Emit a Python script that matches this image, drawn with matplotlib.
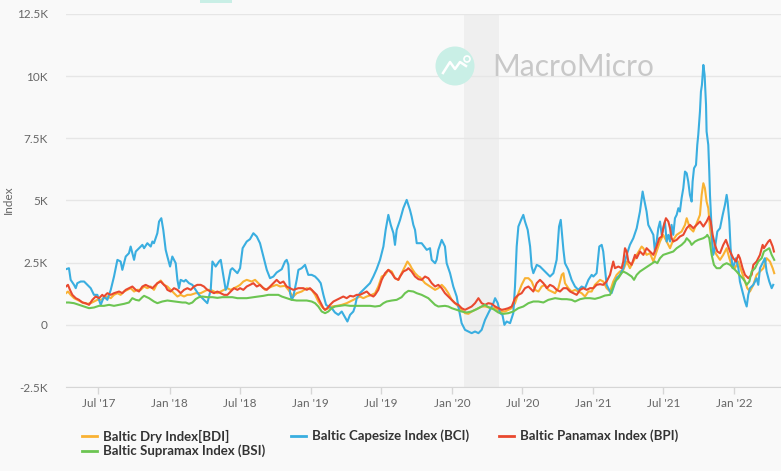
import numpy as np
import pandas as pd
import matplotlib
matplotlib.use("Agg")
import matplotlib.pyplot as plt
from matplotlib.patches import Ellipse, Rectangle
from matplotlib.lines import Line2D

# values: (decimal year, index value)
bdi_pts = [
    (2017.266, 1273), (2017.280, 1340), (2017.299, 1206), (2017.323, 1072), (2017.346, 1005),
    (2017.370, 938), (2017.394, 871), (2017.417, 844), (2017.441, 871), (2017.464, 938),
    (2017.488, 1005), (2017.512, 1005), (2017.535, 1072), (2017.559, 1139), (2017.583, 1072),
    (2017.606, 1206), (2017.630, 1273), (2017.653, 1206), (2017.677, 1340), (2017.701, 1407),
    (2017.724, 1474), (2017.748, 1340), (2017.771, 1407), (2017.795, 1407), (2017.819, 1541),
    (2017.842, 1474), (2017.866, 1541), (2017.889, 1407), (2017.913, 1675), (2017.937, 1782),
    (2017.960, 1608), (2017.984, 1541), (2018.007, 1407), (2018.031, 1273), (2018.055, 1139),
    (2018.078, 1206), (2018.102, 1139), (2018.126, 1206), (2018.149, 1206), (2018.184, 1273),
    (2018.220, 1273), (2018.243, 1340), (2018.267, 1407), (2018.291, 1407), (2018.314, 1340),
    (2018.338, 1273), (2018.362, 1340), (2018.385, 1407), (2018.409, 1474), (2018.432, 1407),
    (2018.456, 1474), (2018.480, 1541), (2018.499, 1608), (2018.522, 1742), (2018.546, 1809),
    (2018.581, 1742), (2018.605, 1809), (2018.628, 1675), (2018.652, 1541), (2018.676, 1407),
    (2018.699, 1474), (2018.723, 1541), (2018.758, 1608), (2018.782, 1541), (2018.817, 1568),
    (2018.841, 1407), (2018.865, 1206), (2018.876, 1139), (2018.900, 1273), (2018.935, 1340),
    (2018.971, 1474), (2019.006, 1407), (2019.030, 1206), (2019.053, 938), (2019.077, 737),
    (2019.101, 603), (2019.124, 670), (2019.148, 737), (2019.183, 764), (2019.219, 804),
    (2019.254, 871), (2019.278, 938), (2019.301, 1005), (2019.325, 1072), (2019.348, 1139),
    (2019.372, 1072), (2019.396, 1139), (2019.431, 1206), (2019.455, 1273), (2019.478, 1541),
    (2019.502, 1943), (2019.526, 2010), (2019.549, 2211), (2019.573, 2144), (2019.596, 1876),
    (2019.620, 1809), (2019.643, 2077), (2019.667, 2345), (2019.684, 2546), (2019.702, 2412),
    (2019.714, 2278), (2019.738, 2077), (2019.762, 1943), (2019.773, 1916), (2019.809, 1675),
    (2019.844, 1541), (2019.880, 1407), (2019.903, 1474), (2019.927, 1608), (2019.950, 1474),
    (2019.974, 1273), (2019.998, 1005), (2020.021, 871), (2020.045, 737), (2020.068, 603),
    (2020.092, 469), (2020.116, 442), (2020.139, 536), (2020.163, 603), (2020.187, 670),
    (2020.210, 737), (2020.234, 737), (2020.257, 710), (2020.281, 670), (2020.305, 670),
    (2020.328, 576), (2020.352, 536), (2020.375, 536), (2020.399, 603), (2020.423, 670),
    (2020.446, 871), (2020.470, 1273), (2020.493, 1608), (2020.517, 1876), (2020.541, 1876),
    (2020.564, 1742), (2020.588, 1407), (2020.612, 1340), (2020.635, 1541), (2020.659, 1608),
    (2020.682, 1407), (2020.706, 1340), (2020.730, 1273), (2020.753, 1474), (2020.777, 2010),
    (2020.789, 2077), (2020.800, 1675), (2020.824, 1474), (2020.847, 1340), (2020.871, 1407),
    (2020.895, 1340), (2020.918, 1273), (2020.942, 1139), (2020.966, 1340), (2020.989, 1340),
    (2021.012, 1608), (2021.048, 1809), (2021.071, 1742), (2021.095, 1474), (2021.119, 1340),
    (2021.142, 1742), (2021.166, 2010), (2021.189, 2144), (2021.213, 2211), (2021.237, 2546),
    (2021.260, 2278), (2021.308, 2814), (2021.343, 3149), (2021.355, 3082), (2021.378, 2814),
    (2021.402, 2881), (2021.426, 2546), (2021.449, 2948), (2021.473, 3350), (2021.496, 3618),
    (2021.520, 3350), (2021.544, 3082), (2021.567, 3417), (2021.591, 3618), (2021.626, 3752),
    (2021.650, 4020), (2021.662, 4288), (2021.685, 3886), (2021.709, 3752), (2021.733, 4087),
    (2021.756, 4422), (2021.768, 5226), (2021.780, 5695), (2021.791, 5494), (2021.803, 4958),
    (2021.815, 4690), (2021.827, 3886), (2021.846, 3082), (2021.874, 2814), (2021.898, 2613),
    (2021.921, 2814), (2021.945, 3082), (2021.964, 2680), (2021.980, 2412), (2022.004, 2278),
    (2022.028, 2546), (2022.051, 2144), (2022.075, 1742), (2022.091, 1474), (2022.110, 1340),
    (2022.134, 1608), (2022.157, 2010), (2022.181, 2144), (2022.205, 2278), (2022.228, 2680),
    (2022.252, 2546), (2022.271, 2278), (2022.282, 2077),
]

bci_pts = [
    (2017.266, 2238), (2017.287, 2278), (2017.299, 1809), (2017.323, 1608), (2017.335, 1474),
    (2017.346, 1675), (2017.370, 1742), (2017.394, 1742), (2017.417, 1608), (2017.441, 1474),
    (2017.464, 1206), (2017.488, 1206), (2017.512, 804), (2017.535, 1139), (2017.559, 1005),
    (2017.583, 1407), (2017.606, 1943), (2017.630, 2613), (2017.653, 2546), (2017.665, 2211),
    (2017.689, 2747), (2017.712, 2881), (2017.724, 3149), (2017.748, 2613), (2017.760, 2948),
    (2017.783, 3082), (2017.807, 3216), (2017.819, 3082), (2017.842, 3283), (2017.866, 3149),
    (2017.878, 3350), (2017.889, 3283), (2017.913, 3685), (2017.925, 4154), (2017.941, 4288),
    (2017.955, 3819), (2017.972, 3015), (2017.984, 2747), (2018.003, 2345), (2018.019, 2747),
    (2018.043, 2479), (2018.055, 1809), (2018.066, 1474), (2018.078, 1809), (2018.102, 1742),
    (2018.114, 1809), (2018.137, 1675), (2018.161, 1608), (2018.184, 1407), (2018.208, 1206),
    (2018.220, 1139), (2018.243, 1005), (2018.267, 871), (2018.291, 1407), (2018.303, 2546),
    (2018.326, 2345), (2018.350, 2546), (2018.362, 2613), (2018.385, 1809), (2018.397, 1407),
    (2018.409, 1541), (2018.432, 2211), (2018.444, 2278), (2018.468, 2144), (2018.480, 2077),
    (2018.499, 2278), (2018.517, 3082), (2018.546, 3350), (2018.569, 3444), (2018.593, 3685),
    (2018.617, 3551), (2018.640, 3283), (2018.664, 2747), (2018.688, 2211), (2018.711, 1876),
    (2018.735, 1943), (2018.758, 2104), (2018.794, 2238), (2018.817, 2546), (2018.829, 2613),
    (2018.841, 2412), (2018.853, 1273), (2018.865, 1005), (2018.876, 1139), (2018.900, 1809),
    (2018.912, 2211), (2018.935, 2278), (2018.959, 2412), (2018.982, 2010), (2019.006, 2010),
    (2019.030, 1943), (2019.053, 1809), (2019.070, 1675), (2019.089, 1206), (2019.108, 804),
    (2019.124, 737), (2019.148, 670), (2019.171, 496), (2019.195, 402), (2019.219, 536),
    (2019.242, 308), (2019.259, 134), (2019.278, 402), (2019.301, 536), (2019.313, 737),
    (2019.325, 1072), (2019.348, 1273), (2019.372, 1407), (2019.396, 1541), (2019.419, 1675),
    (2019.443, 1943), (2019.466, 2238), (2019.490, 2613), (2019.514, 3149), (2019.530, 3819),
    (2019.549, 4422), (2019.566, 4020), (2019.585, 3685), (2019.596, 3216), (2019.608, 3819),
    (2019.632, 4221), (2019.655, 4690), (2019.679, 5025), (2019.702, 4623), (2019.714, 4355),
    (2019.726, 4020), (2019.738, 3819), (2019.750, 3283), (2019.785, 3283), (2019.821, 3015),
    (2019.844, 3082), (2019.856, 2613), (2019.880, 2479), (2019.891, 2613), (2019.903, 3015),
    (2019.927, 3417), (2019.950, 3149), (2019.962, 2479), (2019.986, 2077), (2020.009, 1541),
    (2020.033, 1139), (2020.045, 737), (2020.068, 67), (2020.092, -201), (2020.116, -268),
    (2020.139, -335), (2020.163, -268), (2020.187, -335), (2020.210, -201), (2020.234, 201),
    (2020.257, 469), (2020.293, 871), (2020.305, 1072), (2020.324, 871), (2020.340, 469),
    (2020.357, 402), (2020.371, 0), (2020.387, 134), (2020.411, 67), (2020.434, 469),
    (2020.446, 1541), (2020.458, 3149), (2020.470, 3953), (2020.489, 4221), (2020.505, 4422),
    (2020.517, 4154), (2020.536, 3819), (2020.553, 3149), (2020.564, 2345), (2020.576, 2077),
    (2020.600, 2412), (2020.623, 2345), (2020.647, 2211), (2020.671, 2077), (2020.694, 1943),
    (2020.718, 2077), (2020.741, 2613), (2020.758, 3953), (2020.770, 4221), (2020.789, 3015),
    (2020.800, 2479), (2020.824, 2211), (2020.847, 1809), (2020.871, 1541), (2020.895, 1407),
    (2020.918, 1541), (2020.942, 1474), (2020.966, 1809), (2020.989, 2010), (2021.001, 1943),
    (2021.024, 2077), (2021.043, 3149), (2021.060, 3216), (2021.071, 2948), (2021.083, 2278),
    (2021.095, 1608), (2021.119, 1340), (2021.130, 1273), (2021.142, 1474), (2021.166, 1876),
    (2021.189, 2010), (2021.213, 2278), (2021.237, 2814), (2021.260, 3216), (2021.284, 3484),
    (2021.308, 3886), (2021.331, 4556), (2021.350, 5360), (2021.359, 5092), (2021.378, 4556),
    (2021.390, 4020), (2021.402, 3886), (2021.426, 3618), (2021.437, 2948), (2021.449, 3350),
    (2021.461, 3886), (2021.473, 4154), (2021.485, 3618), (2021.496, 3886), (2021.508, 4154),
    (2021.520, 3350), (2021.532, 3618), (2021.544, 3350), (2021.555, 4020), (2021.567, 3618),
    (2021.579, 4288), (2021.591, 4422), (2021.603, 4690), (2021.614, 4556), (2021.626, 5092),
    (2021.638, 5494), (2021.650, 6164), (2021.662, 6097), (2021.673, 5762), (2021.685, 5226),
    (2021.697, 4958), (2021.704, 5762), (2021.714, 6298), (2021.728, 6432), (2021.737, 7236),
    (2021.744, 7638), (2021.756, 8576), (2021.763, 9380), (2021.770, 9648), (2021.780, 10452),
    (2021.789, 10050), (2021.799, 8844), (2021.803, 7772), (2021.815, 7236), (2021.822, 6164),
    (2021.827, 5226), (2021.834, 4422), (2021.843, 3350), (2021.850, 2814), (2021.862, 3082),
    (2021.879, 3752), (2021.898, 3886), (2021.917, 4422), (2021.933, 4824), (2021.945, 5226),
    (2021.952, 4958), (2021.964, 4154), (2021.973, 3082), (2021.987, 2278), (2021.997, 2412),
    (2022.011, 2680), (2022.028, 2278), (2022.039, 1742), (2022.051, 1474), (2022.063, 1206),
    (2022.075, 938), (2022.087, 737), (2022.098, 1206), (2022.110, 1474), (2022.134, 1608),
    (2022.146, 1742), (2022.157, 1876), (2022.169, 1608), (2022.181, 2278), (2022.205, 2546),
    (2022.216, 2680), (2022.228, 2144), (2022.247, 1742), (2022.264, 1474), (2022.275, 1608),
]

bpi_pts = [
    (2017.266, 1541), (2017.280, 1608), (2017.294, 1407), (2017.311, 1206), (2017.335, 1072),
    (2017.358, 1005), (2017.382, 898), (2017.405, 871), (2017.429, 804), (2017.453, 1005),
    (2017.476, 1139), (2017.500, 1072), (2017.523, 1206), (2017.535, 1139), (2017.559, 1273),
    (2017.583, 1206), (2017.606, 1273), (2017.642, 1340), (2017.665, 1273), (2017.689, 1407),
    (2017.712, 1474), (2017.736, 1541), (2017.760, 1407), (2017.783, 1340), (2017.807, 1541),
    (2017.830, 1608), (2017.854, 1541), (2017.878, 1474), (2017.913, 1675), (2017.937, 1742),
    (2017.948, 1675), (2017.972, 1541), (2017.984, 1407), (2018.007, 1340), (2018.031, 1474),
    (2018.055, 1407), (2018.078, 1273), (2018.102, 1407), (2018.126, 1474), (2018.149, 1407),
    (2018.173, 1541), (2018.196, 1608), (2018.220, 1608), (2018.243, 1541), (2018.267, 1407),
    (2018.291, 1340), (2018.314, 1273), (2018.338, 1340), (2018.362, 1273), (2018.385, 1206),
    (2018.409, 1206), (2018.432, 1340), (2018.456, 1474), (2018.480, 1407), (2018.499, 1474),
    (2018.522, 1407), (2018.546, 1541), (2018.569, 1608), (2018.593, 1675), (2018.617, 1541),
    (2018.640, 1608), (2018.664, 1474), (2018.688, 1407), (2018.711, 1541), (2018.735, 1675),
    (2018.758, 1809), (2018.782, 1675), (2018.806, 1742), (2018.829, 1541), (2018.853, 1474),
    (2018.876, 1407), (2018.912, 1474), (2018.947, 1474), (2018.971, 1407), (2018.994, 1474),
    (2019.018, 1340), (2019.042, 1206), (2019.065, 938), (2019.089, 670), (2019.101, 603),
    (2019.117, 670), (2019.136, 804), (2019.160, 938), (2019.183, 1005), (2019.207, 1072),
    (2019.230, 1139), (2019.254, 1072), (2019.278, 1166), (2019.301, 1139), (2019.325, 1206),
    (2019.348, 1206), (2019.372, 1273), (2019.396, 1340), (2019.419, 1206), (2019.443, 1139),
    (2019.455, 1206), (2019.478, 1407), (2019.502, 1809), (2019.526, 2077), (2019.549, 2211),
    (2019.573, 2077), (2019.596, 1876), (2019.620, 1809), (2019.632, 1943), (2019.655, 2144),
    (2019.679, 2211), (2019.691, 2278), (2019.714, 2144), (2019.738, 1943), (2019.762, 1836),
    (2019.785, 1809), (2019.809, 1943), (2019.832, 1876), (2019.856, 1675), (2019.880, 1541),
    (2019.903, 1608), (2019.927, 1474), (2019.950, 1273), (2019.974, 1139), (2019.998, 1005),
    (2020.021, 871), (2020.045, 804), (2020.068, 670), (2020.092, 603), (2020.116, 670),
    (2020.139, 737), (2020.163, 871), (2020.187, 1072), (2020.210, 871), (2020.234, 804),
    (2020.257, 871), (2020.281, 844), (2020.305, 737), (2020.328, 670), (2020.352, 603),
    (2020.375, 630), (2020.399, 670), (2020.423, 737), (2020.446, 1072), (2020.470, 1206),
    (2020.493, 1273), (2020.517, 1474), (2020.541, 1541), (2020.564, 1407), (2020.576, 1340),
    (2020.600, 1675), (2020.623, 1809), (2020.647, 1675), (2020.671, 1474), (2020.694, 1608),
    (2020.718, 1541), (2020.741, 1407), (2020.765, 1340), (2020.789, 1474), (2020.812, 1474),
    (2020.836, 1340), (2020.859, 1273), (2020.883, 1206), (2020.907, 1407), (2020.930, 1474),
    (2020.954, 1407), (2020.977, 1474), (2021.001, 1474), (2021.024, 1608), (2021.048, 1635),
    (2021.071, 1608), (2021.095, 1742), (2021.119, 2010), (2021.142, 2546), (2021.154, 2278),
    (2021.178, 2345), (2021.201, 2278), (2021.213, 2546), (2021.225, 3082), (2021.237, 2948),
    (2021.249, 2546), (2021.272, 2412), (2021.296, 2814), (2021.308, 2680), (2021.331, 2948),
    (2021.355, 2814), (2021.378, 3082), (2021.402, 2948), (2021.426, 2814), (2021.449, 3149),
    (2021.468, 3484), (2021.485, 3551), (2021.501, 4020), (2021.515, 4288), (2021.532, 4154),
    (2021.544, 3886), (2021.555, 3484), (2021.567, 3350), (2021.591, 3417), (2021.614, 3551),
    (2021.638, 3618), (2021.662, 3886), (2021.685, 4020), (2021.709, 3886), (2021.733, 4020),
    (2021.756, 4154), (2021.780, 3953), (2021.803, 4154), (2021.820, 4355), (2021.832, 4154),
    (2021.846, 3618), (2021.862, 3216), (2021.879, 2948), (2021.898, 2881), (2021.921, 3216),
    (2021.940, 3417), (2021.957, 3149), (2021.969, 2948), (2021.992, 2680), (2022.011, 2546),
    (2022.028, 2814), (2022.039, 2680), (2022.058, 2278), (2022.075, 2010), (2022.098, 1876),
    (2022.122, 2010), (2022.134, 2412), (2022.157, 2546), (2022.181, 2814), (2022.200, 3216),
    (2022.209, 3082), (2022.240, 3350), (2022.252, 3417), (2022.271, 3149), (2022.280, 2948),
]

bsi_pts = [
    (2017.266, 898), (2017.287, 898), (2017.323, 871), (2017.358, 804), (2017.394, 737),
    (2017.429, 670), (2017.464, 697), (2017.500, 764), (2017.535, 764), (2017.571, 804),
    (2017.606, 764), (2017.642, 804), (2017.677, 844), (2017.712, 898), (2017.736, 1072),
    (2017.760, 1005), (2017.783, 978), (2017.807, 1112), (2017.819, 1166), (2017.854, 1072),
    (2017.889, 938), (2017.913, 871), (2017.948, 938), (2017.984, 978), (2018.019, 951),
    (2018.055, 925), (2018.090, 898), (2018.114, 898), (2018.137, 844), (2018.161, 898),
    (2018.184, 1032), (2018.208, 1112), (2018.232, 1139), (2018.267, 1112), (2018.303, 1112),
    (2018.338, 1085), (2018.373, 1112), (2018.409, 1112), (2018.444, 1112), (2018.480, 1072),
    (2018.499, 1072), (2018.546, 1072), (2018.593, 1112), (2018.628, 1139), (2018.664, 1166),
    (2018.699, 1206), (2018.735, 1206), (2018.770, 1206), (2018.794, 1139), (2018.829, 1072),
    (2018.865, 1005), (2018.900, 978), (2018.935, 978), (2018.971, 978), (2019.006, 938),
    (2019.030, 871), (2019.053, 737), (2019.077, 536), (2019.101, 469), (2019.124, 536),
    (2019.148, 670), (2019.171, 737), (2019.207, 764), (2019.242, 791), (2019.278, 764),
    (2019.313, 764), (2019.348, 764), (2019.384, 764), (2019.419, 764), (2019.455, 737),
    (2019.490, 764), (2019.514, 871), (2019.537, 938), (2019.573, 978), (2019.608, 1005),
    (2019.643, 1112), (2019.667, 1273), (2019.691, 1367), (2019.726, 1340), (2019.750, 1273),
    (2019.785, 1206), (2019.832, 1072), (2019.880, 804), (2019.903, 737), (2019.950, 764),
    (2019.974, 737), (2019.998, 670), (2020.033, 603), (2020.068, 536), (2020.104, 496),
    (2020.139, 536), (2020.175, 630), (2020.210, 737), (2020.234, 804), (2020.257, 710),
    (2020.293, 630), (2020.328, 496), (2020.364, 442), (2020.399, 469), (2020.434, 536),
    (2020.470, 670), (2020.505, 737), (2020.541, 871), (2020.576, 938), (2020.612, 938),
    (2020.647, 898), (2020.682, 1005), (2020.730, 1072), (2020.777, 1032), (2020.812, 1032),
    (2020.847, 1005), (2020.871, 938), (2020.907, 1032), (2020.942, 1072), (2020.977, 1072),
    (2021.012, 1045), (2021.048, 1099), (2021.083, 1179), (2021.119, 1206), (2021.138, 1474),
    (2021.154, 1742), (2021.178, 1876), (2021.201, 2077), (2021.213, 2144), (2021.237, 2077),
    (2021.272, 1943), (2021.289, 1809), (2021.308, 2010), (2021.331, 2144), (2021.367, 2278),
    (2021.402, 2412), (2021.437, 2546), (2021.454, 2479), (2021.473, 2680), (2021.496, 2814),
    (2021.532, 2881), (2021.567, 2948), (2021.591, 3082), (2021.626, 3216), (2021.650, 3350),
    (2021.662, 3484), (2021.685, 3350), (2021.697, 3216), (2021.721, 3350), (2021.744, 3417),
    (2021.780, 3484), (2021.799, 3551), (2021.808, 3618), (2021.822, 3484), (2021.839, 2814),
    (2021.855, 2412), (2021.874, 2278), (2021.898, 2278), (2021.921, 2412), (2021.945, 2479),
    (2021.969, 2412), (2021.992, 2278), (2022.016, 2144), (2022.035, 2010), (2022.058, 1876),
    (2022.075, 1742), (2022.087, 1608), (2022.106, 1742), (2022.122, 2144), (2022.146, 2278),
    (2022.169, 2546), (2022.193, 2680), (2022.209, 2948), (2022.228, 3015), (2022.247, 3082),
    (2022.264, 2814), (2022.282, 2613),
]

series_names = ["Baltic Dry Index[BDI]", "Baltic Capesize Index (BCI)",
                "Baltic Panamax Index (BPI)", "Baltic Supramax Index (BSI)"]
series_colors = ["#f9b233", "#3aaee0", "#e9492f", "#6cc552"]

tick_dates = ["2017-07-01", "2018-01-01", "2018-07-01", "2019-01-01", "2019-07-01",
              "2020-01-01", "2020-07-01", "2021-01-01", "2021-07-01", "2022-01-01"]
tick_labels = ["Jul '17", "Jan '18", "Jul '18", "Jan '19", "Jul '19",
               "Jan '20", "Jul '20", "Jan '21", "Jul '21", "Jan '22"]
y_ticks = [-2500, 0, 2500, 5000, 7500, 10000, 12500]
y_labels = ["-2.5K", "0", "2.5K", "5K", "7.5K", "10K", "12.5K"]
recession = ("2020-02-01", "2020-05-01")


def year_frac(s):
    d = pd.Timestamp(s)
    ndays = 366 if d.is_leap_year else 365
    return d.year + (d.dayofyear - 1) / ndays


plt.rcParams['font.family'] = ['Lato', 'DejaVu Sans']
W, H = 781, 471
bg = "#f9f9f9"

fig = plt.figure(figsize=(W / 100, H / 100), dpi=100, facecolor=bg)
ax = fig.add_axes([66 / W, (H - 387) / H, (W - 66) / W, (387 - 14) / H])
ax.set_facecolor(bg)

ax.axvspan(year_frac(recession[0]), year_frac(recession[1]), color="#efefef", zorder=0, lw=0)

for pts, col, z in zip([bdi_pts, bci_pts, bpi_pts, bsi_pts], series_colors, [3, 4, 5, 6]):
    t = [p[0] for p in pts]
    v = [p[1] for p in pts]
    ax.plot(t, v, color=col, lw=1.5, zorder=z, solid_joinstyle="round")

ax.set_xlim(2017.266, 2022.330)
ax.set_ylim(-2500, 12500)

ax.set_yticks(y_ticks)
ax.set_yticklabels(y_labels)
ax.set_xticks([year_frac(d) for d in tick_dates])
ax.set_xticklabels(tick_labels)
ax.yaxis.grid(True, color="#e6e6e6", lw=1)
ax.set_axisbelow(True)
for s in ["top", "right", "left"]:
    ax.spines[s].set_visible(False)
ax.spines["bottom"].set_color("#d6d6d6")
ax.tick_params(axis="y", length=0, pad=13, labelsize=8.5, labelcolor="#666666")
ax.tick_params(axis="x", length=5, width=1, color="#d6d6d6", pad=3,
               labelsize=8.5, labelcolor="#666666")

fig.text(8 / W, 1 - 200 / H, "Index", rotation=90, ha="center", va="center",
         fontsize=8.5, color="#666666")

# watermark
fig.add_artist(Ellipse((455 / W, 1 - 66 / H), 39 / W, 39 / H, transform=fig.transFigure,
                       color="#c9efe6", lw=0, zorder=1))
icon_x = np.array([443, 450, 455, 460, 466]) / W
icon_y = 1 - np.array([73, 62, 69, 62, 66]) / H
fig.add_artist(Line2D(icon_x, icon_y, color="white", lw=1.8, transform=fig.transFigure, zorder=2))
fig.add_artist(Ellipse((467 / W, 1 - 59 / H), 6 / W, 6 / H, transform=fig.transFigure,
                       fill=False, ec="white", lw=1.2, zorder=2))
fig.text(492 / W, 1 - 67 / H, "MacroMicro", ha="left", va="center", fontsize=21.5,
         color="#c8c8c8")
fig.add_artist(Rectangle((200 / W, 1 - 3 / H), 32 / W, 3 / H, transform=fig.transFigure,
                         color="#c9efe6", lw=0))

# legend, row-wise like the reference
leg_pos = [(82, 436), (291, 436), (499, 436), (82, 451)]
for (lx, ly), name, col in zip(leg_pos, series_names, series_colors):
    fig.add_artist(Line2D([lx / W, (lx + 15) / W], [1 - ly / H, 1 - ly / H], color=col,
                          lw=2, transform=fig.transFigure))
    fig.text((lx + 21) / W, 1 - ly / H, name, ha="left", va="center", fontsize=9.5,
             fontweight="bold", color="#333333")

fig.savefig("out.png", dpi=100, facecolor=bg)
